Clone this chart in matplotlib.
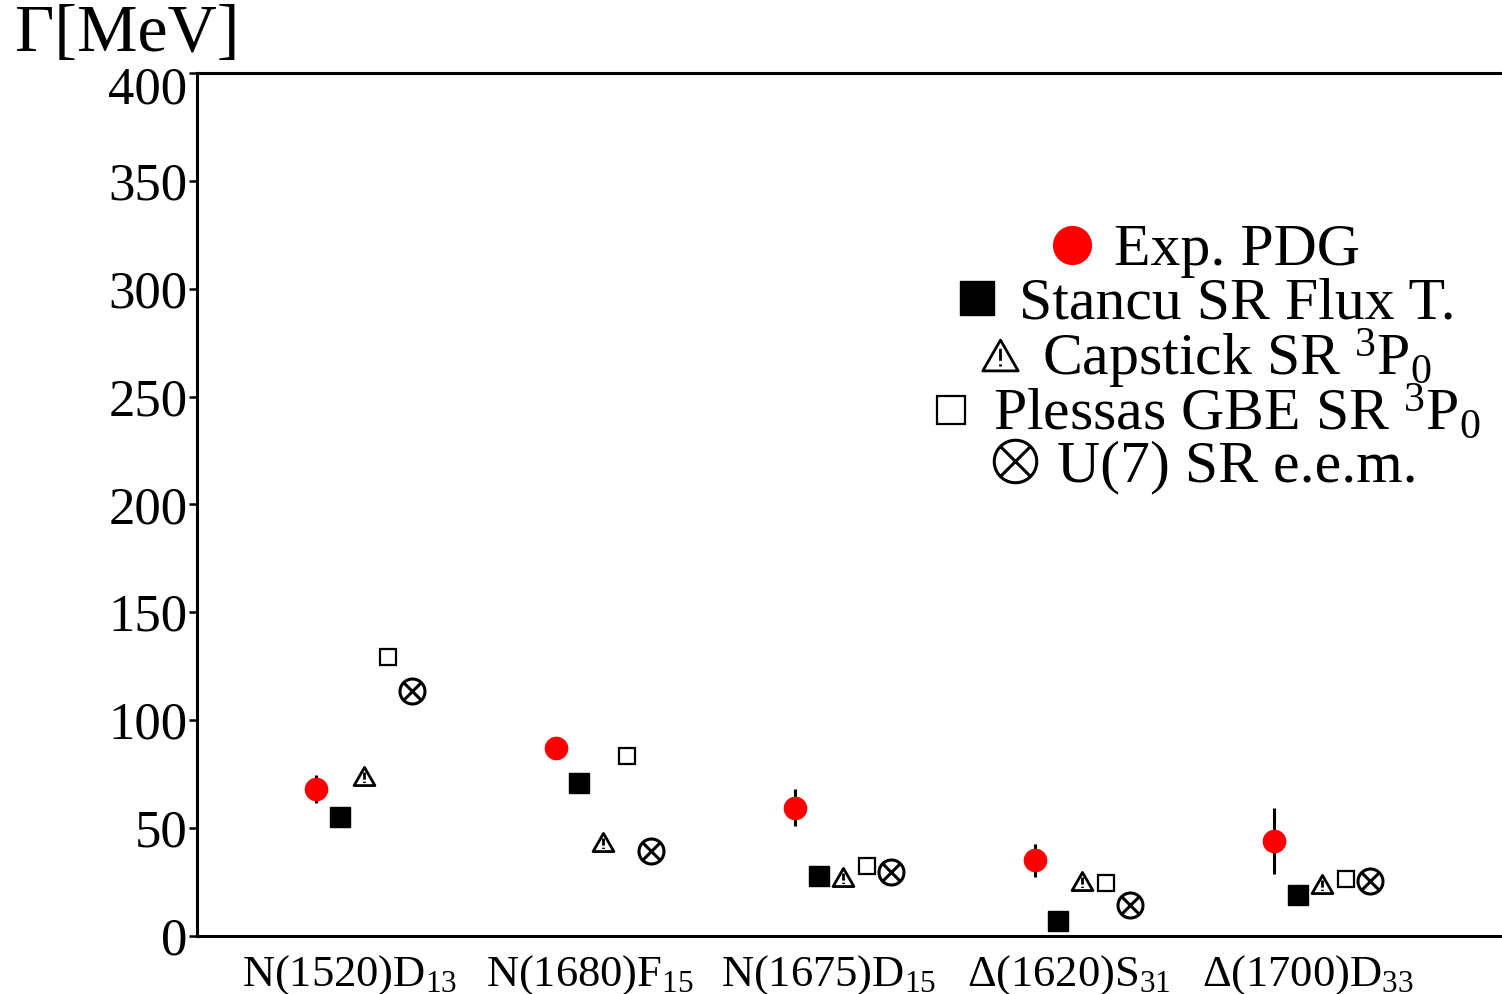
import numpy as np
import matplotlib
matplotlib.use('Agg')
import matplotlib.pyplot as plt
from matplotlib.path import Path
from matplotlib.transforms import ScaledTranslation

plt.rcParams['font.family'] = ['Liberation Serif', 'DejaVu Serif']
plt.rcParams['mathtext.fontset'] = 'custom'
plt.rcParams['mathtext.rm'] = 'Liberation Serif'
plt.rcParams['mathtext.it'] = 'Liberation Serif:italic'
plt.rcParams['mathtext.bf'] = 'Liberation Serif:bold'

# data
states = [r'N(1520)D$_{13}$', r'N(1680)F$_{15}$', r'N(1675)D$_{15}$',
          r'Δ(1620)S$_{31}$', r'Δ(1700)D$_{33}$']
exp_pdg = [68, 87, 59.5, 35, 44]
exp_err = [6.5, 5, 8.5, 7.5, 15.3]
stancu = [55, 71, 28, 7, 19]
capstick = [74, 43.7, 27.5, 25.6, 23.9]
plessas = [129.3, 83.4, 32.4, 24.4, 26.3]
u7 = [113.7, 39.5, 29.8, 14.4, 25.6]

labels = ['Exp. PDG', 'Stancu SR Flux T.', r'Capstick SR $^3$P$_0$',
          r'Plessas GBE SR $^3$P$_0$', 'U(7) SR e.e.m.']

x = np.arange(1, len(states) + 1)

# custom marker shapes: warning triangle and circled cross
warn_marker = Path(
    [(-1, -0.87), (1, -0.87), (0, 0.87), (-1, -0.87),
     (0, 0.38), (0, -0.3), (0, -0.5), (0, -0.62)],
    [Path.MOVETO, Path.LINETO, Path.LINETO, Path.CLOSEPOLY,
     Path.MOVETO, Path.LINETO, Path.MOVETO, Path.LINETO])

t = np.linspace(0, 2 * np.pi, 60)
circ = Path(np.column_stack([np.cos(t), np.sin(t)]))
d = np.sqrt(0.5)
cross = Path([(-d, -d), (d, d), (-d, d), (d, -d)],
             [Path.MOVETO, Path.LINETO, Path.MOVETO, Path.LINETO])
otimes_marker = Path.make_compound_path(circ, cross)

fig = plt.figure(figsize=(15.02, 9.94), dpi=100)
ax = fig.add_axes([197 / 1502, 58 / 994, 1 - 197 / 1502, 863 / 994])

eb = ax.errorbar(x - 0.2, exp_pdg, yerr=exp_err, fmt='o', color='red', ms=16,
                 ecolor='black', elinewidth=2.2, capsize=0, zorder=3)
h1, = ax.plot(x - 0.1, stancu, 's', color='black', ms=14.4, ls='none')
h2, = ax.plot(x, capstick, ls='none', marker=warn_marker, ms=15,
              mfc='none', mec='black', mew=2.0)
h3, = ax.plot(x + 0.1, plessas, 's', ls='none', ms=12, mfc='white',
              mec='black', mew=1.6)
h4, = ax.plot(x + 0.2, u7, ls='none', marker=otimes_marker, ms=18,
              mfc='none', mec='black', mew=2.2)

ax.set_xlim(0.303, 5.752)
ax.set_ylim(0, 400)
ax.set_yticks(np.arange(0, 401, 50))
ax.set_xticks(x)
ax.set_xticklabels(states)
ax.tick_params(axis='x', length=0, pad=12, labelsize=32)
ax.tick_params(axis='y', length=6, width=1.8, pad=1, labelsize=38)
for lab in ax.get_xticklabels():
    lab.set_transform(lab.get_transform() + ScaledTranslation(-14 / 100, 0, fig.dpi_scale_trans))
top_lab = ax.get_yticklabels()[-1]
top_lab.set_transform(top_lab.get_transform() + ScaledTranslation(0, -12 / 100, fig.dpi_scale_trans))

ax.spines['right'].set_visible(False)
for s in ['top', 'bottom', 'left']:
    ax.spines[s].set_linewidth(2.2)

fig.text(15 / 1502, 1 - 4 / 994, 'Γ[MeV]', fontsize=49, ha='left', va='top')

handles = [eb[0], h1, h2, h3, h4]
rows_y = [251, 304, 359, 414, 467]
for h, lab, yp in zip(handles, labels, rows_y):
    fig.legend(handles=[h], labels=[lab], loc='center',
               bbox_to_anchor=(1204 / 1502, 1 - yp / 994),
               bbox_transform=fig.transFigure, frameon=False, fontsize=43,
               markerscale=1.7, handlelength=0.8, handletextpad=0.3,
               borderpad=0, borderaxespad=0)

fig.savefig('out.png', dpi=100)
